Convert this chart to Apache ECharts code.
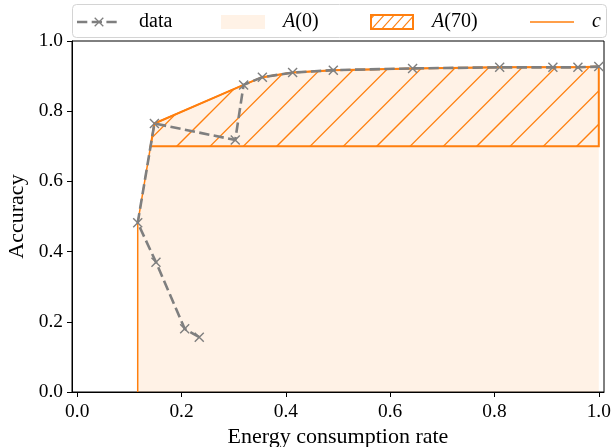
<!DOCTYPE html>
<html>
<head>
<meta charset="utf-8">
<script src="https://cdn.jsdelivr.net/npm/echarts@6/dist/echarts.min.js"></script>
<style>
  html, body { margin: 0; padding: 0; background: #fff; }
  #chart { width: 616px; height: 447px; }
</style>
</head>
<body>
<div id="chart"></div>
<script>
// Operating points in the order they were recorded: energy consumption rate and accuracy
const energyRate = [0.234, 0.206, 0.151, 0.116, 0.148, 0.303, 0.319, 0.355, 0.413, 0.491, 0.643, 0.810, 0.912, 0.960, 1.000];
const accuracy   = [0.156, 0.180, 0.370, 0.482, 0.765, 0.718, 0.875, 0.897, 0.910, 0.917, 0.922, 0.925, 0.925, 0.925, 0.927];
// Accuracy threshold (percent) for the hatched area
const threshold = 70;
const xTicks = [0.0, 0.2, 0.4, 0.6, 0.8, 1.0];
const yTicks = [0.0, 0.2, 0.4, 0.6, 0.8, 1.0];
const legendNames = ['data', 'A(0)', 'A(70)', 'c'];

const ORANGE = '#ff7f0e';
const GRAY = '#7f7f7f';
const FONT = 'Liberation Serif';

// Pareto frontier: sort by energy, keep points that do not lose accuracy
const pts = energyRate.map((x, i) => [x, accuracy[i]]);
const sorted = pts.slice().sort((a, b) => a[0] - b[0]);
const frontier = [];
let best = -Infinity;
for (const p of sorted) {
  if (p[1] >= best) { frontier.push(p); best = p[1]; }
}

// Region of the frontier above the threshold, closed along the threshold line
const level = threshold / 100;
const hatchPoly = [];
for (let i = 0; i < frontier.length; i++) {
  const p = frontier[i];
  if (p[1] >= level) {
    if (hatchPoly.length === 0 && i > 0) {
      const q = frontier[i - 1];
      const t = (level - q[1]) / (p[1] - q[1]);
      hatchPoly.push([q[0] + t * (p[0] - q[0]), level]);
    }
    hatchPoly.push(p);
  }
}
hatchPoly.push([frontier[frontier.length - 1][0], level]);

// Curve c: vertical rise at the lowest energy, then the frontier
const cLine = [[frontier[0][0], 0]].concat(frontier);

// Diagonal hatch tile (lines x + y = const, 100/3 px apart, seamless in 100 px)
function hatchTile() {
  const c = document.createElement('canvas');
  c.width = 100; c.height = 100;
  const ctx = c.getContext('2d');
  ctx.strokeStyle = ORANGE;
  ctx.lineWidth = 1.3;
  for (let k = -4; k <= 10; k++) {
    const s = 23 + k * 100 / 3;
    ctx.beginPath();
    ctx.moveTo(s + 10, -10);
    ctx.lineTo(s - 110, 110);
    ctx.stroke();
  }
  return c;
}
const hatchPattern = { image: hatchTile(), repeat: 'repeat' };

// 'x' marker as a filled cross
const X_PATH = 'path://M0,2L2,0L20,18L18,20Z M18,0L20,2L2,20L0,18Z';

// Legend handle images
const ICON_W = 57, ICON_H = 18, HANDLE = 44;
function icon(draw) {
  const c = document.createElement('canvas');
  c.width = ICON_W; c.height = ICON_H;
  const ctx = c.getContext('2d');
  draw(ctx);
  return 'image://' + c.toDataURL();
}
function drawX(ctx, cx, cy, r) {
  ctx.beginPath();
  ctx.moveTo(cx - r, cy - r); ctx.lineTo(cx + r, cy + r);
  ctx.moveTo(cx + r, cy - r); ctx.lineTo(cx - r, cy + r);
  ctx.stroke();
}
const icons = {
  'data': icon(ctx => {
    ctx.strokeStyle = GRAY;
    ctx.lineWidth = 2.6;
    ctx.setLineDash([10.3, 4.4]);
    ctx.beginPath(); ctx.moveTo(0, 9); ctx.lineTo(HANDLE, 9); ctx.stroke();
    ctx.setLineDash([]);
    ctx.lineWidth = 1.3;
    drawX(ctx, HANDLE / 2, 9, 4.3);
  }),
  'A(0)': icon(ctx => {
    ctx.fillStyle = 'rgba(255,127,14,0.1)';
    ctx.fillRect(0, 2, HANDLE, 14);
  }),
  'A(70)': icon(ctx => {
    ctx.save();
    ctx.beginPath(); ctx.rect(1, 2, HANDLE - 2, 14); ctx.clip();
    ctx.strokeStyle = ORANGE; ctx.lineWidth = 1.1;
    for (let s = -20; s < 80; s += 10) {
      ctx.beginPath(); ctx.moveTo(s, 18); ctx.lineTo(s + 16, 0); ctx.stroke();
    }
    ctx.restore();
    ctx.strokeStyle = ORANGE; ctx.lineWidth = 2;
    ctx.strokeRect(1, 2, HANDLE - 2, 14);
  }),
  'c': icon(ctx => {
    ctx.strokeStyle = ORANGE; ctx.lineWidth = 1.5;
    ctx.beginPath(); ctx.moveTo(0, 9); ctx.lineTo(HANDLE, 9); ctx.stroke();
  })
};
const legendLeft = { 'data': 77, 'A(0)': 221, 'A(70)': 370, 'c': 530 };

const labelRich = {
  i: { fontFamily: FONT, fontStyle: 'italic', fontSize: 20, color: '#000' },
  n: { fontFamily: FONT, fontSize: 20, color: '#000' }
};
function legendText(name) {
  const m = name.match(/^([A-Za-z])(.*)$/);
  if (name === 'data') return '{n|data}';
  return '{i|' + m[1] + '}' + (m[2] ? '{n|' + m[2] + '}' : '');
}

const chart = echarts.init(document.getElementById('chart'), null, { renderer: 'canvas' });

chart.setOption({
  animation: false,
  backgroundColor: '#fff',
  grid: {
    left: 72, right: 12, top: 41, bottom: 55,
    containLabel: false, outerBoundsMode: 'none',
    show: true, borderColor: '#000', borderWidth: 1, backgroundColor: 'transparent'
  },
  graphic: [{
    type: 'rect', z: 1,
    shape: { x: 72.5, y: 4.5, width: 534, height: 33, r: 4 },
    style: { fill: 'rgba(255,255,255,0.8)', stroke: '#d4d4d4', lineWidth: 1 }
  }],
  legend: legendNames.map(name => ({
    z: 5,
    left: legendLeft[name], top: 12,
    padding: 0,
    itemWidth: ICON_W, itemHeight: ICON_H,
    selectedMode: false,
    data: [{ name: name, icon: icons[name] }],
    formatter: legendText,
    textStyle: { fontFamily: FONT, fontSize: 20, color: '#000', rich: labelRich }
  })),
  xAxis: {
    type: 'value', min: -0.01, max: 1.01,
    name: 'Energy consumption rate', nameLocation: 'middle', nameGap: 32,
    nameTextStyle: { fontFamily: FONT, fontSize: 22, color: '#000' },
    axisLine: { onZero: false, lineStyle: { color: '#000', width: 1 } },
    axisTick: { show: true, length: 5, customValues: xTicks, lineStyle: { color: '#000' } },
    axisLabel: {
      customValues: xTicks, margin: 10,
      fontFamily: FONT, fontSize: 19.4, color: '#000',
      formatter: v => v.toFixed(1)
    },
    splitLine: { show: false }
  },
  yAxis: {
    type: 'value', min: 0, max: 1,
    name: 'Accuracy', nameLocation: 'middle', nameGap: 40,
    nameTextStyle: { fontFamily: FONT, fontSize: 22, color: '#000' },
    axisLine: { onZero: false, lineStyle: { color: '#000', width: 1 } },
    axisTick: { show: true, length: 5, customValues: yTicks, lineStyle: { color: '#000' } },
    axisLabel: {
      customValues: yTicks, margin: 9,
      fontFamily: FONT, fontSize: 19.4, color: '#000',
      formatter: v => v.toFixed(1)
    },
    splitLine: { show: false }
  },
  series: [
    {
      name: 'A(0)', type: 'line', z: 1,
      data: frontier,
      showSymbol: false, silent: true,
      lineStyle: { width: 0, opacity: 0 },
      itemStyle: { color: 'rgba(255,127,14,0.1)' },
      areaStyle: { color: 'rgba(255,127,14,0.1)', origin: 'start', opacity: 1 }
    },
    {
      name: 'A(70)', type: 'custom', z: 2,
      coordinateSystem: 'cartesian2d',
      data: hatchPoly,
      silent: true,
      itemStyle: { color: ORANGE },
      renderItem: (params, api) => {
        if (params.dataIndex !== 0) return null;
        const poly = hatchPoly.map(p => api.coord(p));
        return {
          type: 'group',
          children: [
            { type: 'polygon', shape: { points: poly }, style: { fill: hatchPattern, stroke: null } },
            { type: 'polygon', shape: { points: poly }, style: { fill: null, stroke: ORANGE, lineWidth: 2, lineJoin: 'miter' } }
          ]
        };
      }
    },
    {
      name: 'c', type: 'line', z: 3,
      data: cLine,
      showSymbol: false, silent: true,
      itemStyle: { color: ORANGE },
      lineStyle: { color: ORANGE, width: 1.5 }
    },
    {
      name: 'data', type: 'line', z: 4,
      data: pts,
      symbol: X_PATH, symbolSize: 10, showAllSymbol: true,
      silent: true,
      itemStyle: { color: GRAY },
      lineStyle: { color: GRAY, width: 2.6, type: [10.3, 4.4] }
    }
  ]
});
</script>
</body>
</html>
